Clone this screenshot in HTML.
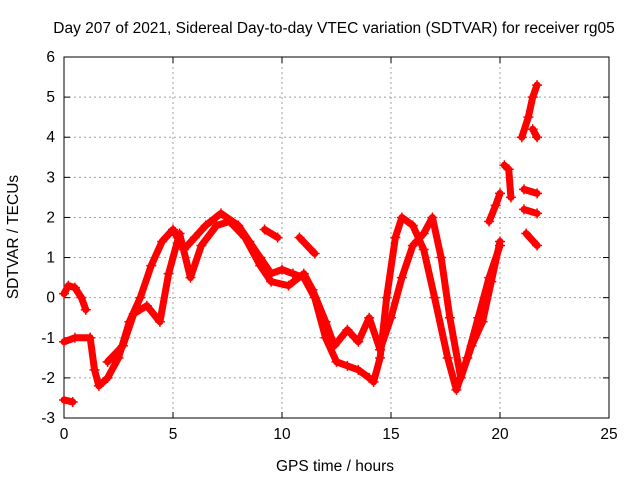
<!DOCTYPE html>
<html><head><meta charset="utf-8"><style>
body{margin:0;background:#fff}
svg{display:block;font-family:"Liberation Sans",sans-serif}
</style></head><body>
<svg id="c" width="640" height="480"></svg>
<script>
const xTicks=[0,5,10,15,20,25];
const yTicks=[-3,-2,-1,0,1,2,3,4,5,6];
const seriesMain=[[1.2,-1],[1.4,-1.8],[1.6,-2.2],[2,-2],[2.5,-1.5],[3,-0.6],[3.5,0],[4,0.8],[4.5,1.4],[5,1.7],[5.5,1.2],[6,1.5],[6.5,1.8],[7.2,2.1],[8,1.8],[8.5,1.4],[9,1.0],[9.5,0.6],[10,0.7],[10.5,0.6],[11,0.5],[11.5,0],[12,-1],[12.5,-1.6],[13,-1.7],[13.5,-1.8],[14,-2],[14.2,-2.1],[14.5,-1.5],[14.8,0],[15.2,1.5],[15.5,2],[16,1.8],[16.5,1.2],[17,0],[17.6,-1.5],[18,-2.3],[18.5,-1.5],[19,-0.5],[19.5,0.5],[20,1.3]];
const seriesSecond=[[2,-1.6],[2.7,-1.2],[3.2,-0.4],[3.8,-0.2],[4.4,-0.6],[4.8,0.6],[5.3,1.6],[5.8,0.5],[6.3,1.3],[7,1.8],[7.6,1.9],[8.3,1.5],[9,0.8],[9.5,0.4],[10.3,0.3],[11,0.6],[11.4,0.2],[12,-0.6],[12.4,-1.2],[13,-0.8],[13.5,-1.1],[14,-0.5],[14.5,-1.3],[15,-0.5],[15.5,0.5],[16,1.3],[16.5,1.6],[16.9,2.0],[17.3,1],[17.7,-0.5],[18.2,-2.0],[18.7,-1.2],[19.2,-0.6],[19.6,0.4],[20,1.4]];
const seriesEarly=[[0,0.1],[0.2,0.3],[0.5,0.25],[0.8,0],[1,-0.3]];
const seriesFlat=[[0,-1.1],[0.5,-1],[1.2,-1]];
const seriesLow=[[0,-2.55],[0.4,-2.6]];
const seriesBits1=[[9.2,1.7],[9.8,1.5]];
const seriesBits2=[[10.8,1.5],[11.5,1.1]];
const seriesLate1=[[19.5,1.9],[19.8,2.3],[20,2.6]];
const seriesLate2=[[20.2,3.3],[20.4,3.2],[20.5,2.5]];
const seriesLate3=[[21,4.0],[21.3,4.5],[21.5,5.0],[21.7,5.3]];
const seriesLate4=[[21.1,2.7],[21.7,2.6]];
const seriesLate5=[[21.1,2.2],[21.7,2.1]];
const seriesLate6=[[21.2,1.6],[21.7,1.3]];
const seriesLate7=[[21.5,4.2],[21.7,4.0]];
const allSeries=[seriesMain,seriesSecond,seriesEarly,seriesFlat,seriesLow,seriesBits1,seriesBits2,seriesLate1,seriesLate2,seriesLate3,seriesLate4,seriesLate5,seriesLate6,seriesLate7];

const L=64,R=609,T=57,B=418;
const xs=v=>L+(v-0)/25*(R-L);
const ys=v=>B-(v+3)/9*(B-T);
const svg=document.getElementById('c');
const NS='http://www.w3.org/2000/svg';
function mk(tag,attrs,parent){const e=document.createElementNS(NS,tag);for(const k in attrs)e.setAttribute(k,attrs[k]);(parent||svg).appendChild(e);return e;}

const grid=mk('g',{});


xTicks.forEach(t=>{
  if(t>0&&t<25)mk('line',{x1:xs(t),x2:xs(t),y1:T,y2:B,stroke:'#a0a0a0','stroke-dasharray':'2,3','stroke-width':1},grid);
  mk('line',{x1:xs(t),x2:xs(t),y1:B,y2:B-6,stroke:'#000'},grid);
  mk('line',{x1:xs(t),x2:xs(t),y1:T,y2:T+6,stroke:'#000'},grid);
  const tx=mk('text',{x:xs(t),y:B+21,'text-anchor':'middle','font-size':15.5,fill:'#000'});
  
  
  tx.textContent=t;
});
yTicks.forEach(t=>{
  if(t>-3&&t<6)mk('line',{x1:L,x2:R,y1:ys(t),y2:ys(t),stroke:'#a0a0a0','stroke-dasharray':'2,3','stroke-width':1},grid);
  mk('line',{x1:L,x2:L+6,y1:ys(t),y2:ys(t),stroke:'#000'},grid);
  mk('line',{x1:R,x2:R-6,y1:ys(t),y2:ys(t),stroke:'#000'},grid);
  const tx=mk('text',{x:L-9,y:ys(t)+5,'text-anchor':'end','font-size':15.5,fill:'#000'});
  
  
  tx.textContent=t;
});
const frame=mk('rect',{x:L,y:T,width:R-L,height:B-T,fill:'none',stroke:'#000'});



const dataG=mk('g',{});


allSeries.forEach(s=>{
  const p=mk('polyline',{points:s.map(d=>xs(d[0])+','+ys(d[1])).join(' '),fill:'none',stroke:'#ff0000','stroke-width':7,'stroke-linejoin':'round','stroke-linecap':'round'},dataG);
  
  
  s.forEach(d=>{
    const x=xs(d[0]),y=ys(d[1]);
    const m=mk('path',{d:`M${x-5},${y}H${x+5}M${x},${y-5}V${y+5}`,stroke:'#ff0000','stroke-width':1.5},dataG);
    
    
  });
});
</script>
<script>
(function(){const svg=document.getElementById('c');const NS='http://www.w3.org/2000/svg';
function t(x,y,s,name,extra){const e=document.createElementNS(NS,'text');e.setAttribute('x',x);e.setAttribute('y',y);e.setAttribute('font-size',15.5);e.setAttribute('text-anchor','middle');if(extra)e.setAttribute('transform',extra);


e.textContent=s;svg.appendChild(e);}
t(334,33,'Day 207 of 2021, Sidereal Day-to-day VTEC variation (SDTVAR) for receiver rg05','chart-title');
t(335,471,'GPS time / hours','x-axis-title');
t(18,237,'SDTVAR / TECUs','y-axis-title','rotate(-90 18 237)');
})();
</script>
</body></html>
